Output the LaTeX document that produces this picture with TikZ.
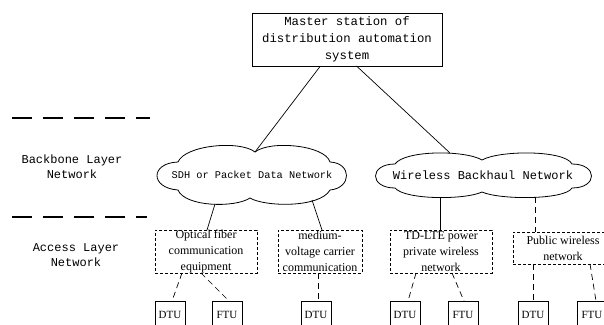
\documentclass[tikz,border=0pt]{standalone}
\usepackage{fontspec}
\setmainfont{Liberation Serif}
\newfontfamily\monof{Liberation Mono}
\usetikzlibrary{calc}
\begin{document}
\begin{tikzpicture}[x=1pt,y=-1pt,
  every node/.style={inner sep=0pt, outer sep=0pt},
  mastertxt/.style={font=\monof\fontsize{12.3}{17}\selectfont, align=center},
  sidetxt/.style={font=\monof\fontsize{12}{15}\selectfont, align=center},
  dbox/.style={draw, densely dashed, line width=0.6pt, align=center, font=\fontsize{12}{16}\selectfont},
  sbox/.style={draw, line width=0.8pt, minimum width=30pt, minimum height=28pt, font=\fontsize{11}{12}\selectfont},
  link/.style={line width=0.7pt},
  dlink/.style={line width=0.7pt, dash pattern=on 6pt off 4pt},
  layer/.style={line width=2.4pt, dash pattern=on 20pt off 11pt},
  cloudline/.style={line width=0.8pt}]
\useasboundingbox (0,0) rectangle (604,324);
\clip (0,0) rectangle (604,324);

% master station
\node[draw, line width=0.8pt, minimum width=190pt, minimum height=53pt, mastertxt] (master) at (347,39.5)
  {Master station of\\distribution automation\\system};

% layer separators and labels
\coordinate (l1a) at (12,118); \coordinate (l1b) at (150,118);
\coordinate (l2a) at (12,217); \coordinate (l2b) at (147,217);
\draw[layer] (l1a) -- (l1b);
\draw[layer] (l2a) -- (l2b);
\node[sidetxt] (bb) at (72,167) {Backbone Layer\\Network};
\node[sidetxt] (al) at (76,255) {Access Layer\\Network};

% SDH cloud
\draw[cloudline] (178,162) .. controls (185,145) and (240,140) .. (255,152)
  .. controls (270,140) and (325,145) .. (330,162)
  .. controls (352,163) and (352,188) .. (330,190)
  .. controls (320,208) and (265,207) .. (250,198)
  .. controls (235,208) and (185,207) .. (178,190)
  .. controls (150,188) and (150,163) .. (178,162) -- cycle;
\node[font=\monof\fontsize{10.3}{12}\selectfont] (sdh) at (252,175) {SDH or Packet Data Network};
\coordinate (sdh-top) at (255,152);
\coordinate (sdh-bl) at (215,204);
\coordinate (sdh-br) at (312,200);

% Wireless cloud
\draw[cloudline] (395,164) .. controls (405,150) and (465,150) .. (482,160)
  .. controls (500,150) and (565,150) .. (572,164)
  .. controls (598,164) and (598,188) .. (572,188)
  .. controls (565,200) and (500,200) .. (482,192)
  .. controls (465,200) and (405,200) .. (395,188)
  .. controls (369,188) and (369,164) .. (395,164) -- cycle;
\node[font=\monof\fontsize{12}{14}\selectfont] (wbn) at (483,175) {Wireless Backhaul Network};
\coordinate (wbn-top) at (450,153);
\coordinate (wbn-bl) at (440,197);
\coordinate (wbn-br) at (535,197);

% access boxes
\node[dbox, minimum width=102pt, minimum height=43pt] (opt) at (206,251.5)
  {Optical fiber\\communication\\equipment};
\node[dbox, minimum width=84pt, minimum height=43pt] (med) at (320,251.5)
  {medium-\\voltage carrier\\communication};
\node[dbox, minimum width=102pt, minimum height=43pt] (td) at (441,251.5)
  {TD-LTE power\\private wireless\\network};
\node[dbox, minimum width=100pt, minimum height=32pt] (pub) at (563,248)
  {Public wireless\\network};

% terminal boxes
\node[sbox] (dtu1) at (170,315) {DTU};
\node[sbox] (ftu1) at (227,315) {FTU};
\node[sbox] (dtu2) at (316,315) {DTU};
\node[sbox] (dtu3) at (405,315) {DTU};
\node[sbox] (ftu3) at (463,315) {FTU};
\node[sbox] (dtu4) at (533,315) {DTU};
\node[sbox] (ftu4) at (592,315) {FTU};

% connectors
\draw[link] ($(master.south west)!0.36!(master.south east)$) -- (sdh-top);
\draw[link] ($(master.south west)!0.55!(master.south east)$) -- (wbn-top);
\draw[link] (sdh-bl) -- ($(opt.north)+(1,0)$);
\draw[link] (sdh-br) -- ($(med.north)+(2,0)$);
\draw[link] (wbn-bl) -- (wbn-bl |- td.north);
\draw[dlink] (wbn-br) -- (wbn-br |- pub.north);
\draw[dlink] ($(opt.south)+(-24,0)$) -- ($(dtu1.north)+(2,0)$);
\draw[dlink] ($(opt.south)+(-5,0)$) -- ($(ftu1.north)+(2,0)$);
\draw[dlink] ($(med.south)+(-2,0)$) -- ($(dtu2.north)+(2,0)$);
\draw[dlink] ($(td.south)+(-25,0)$) -- ($(dtu3.north)+(3,0)$);
\draw[dlink] ($(td.south)+(11,0)$) -- ($(ftu3.north)+(1,0)$);
\draw[dlink] (pub.south -| dtu4.north) -- (dtu4.north);
\draw[dlink] ($(pub.south)+(27,0)$) -- ($(ftu4.north)+(4,0)$);
\end{tikzpicture}
\end{document}
